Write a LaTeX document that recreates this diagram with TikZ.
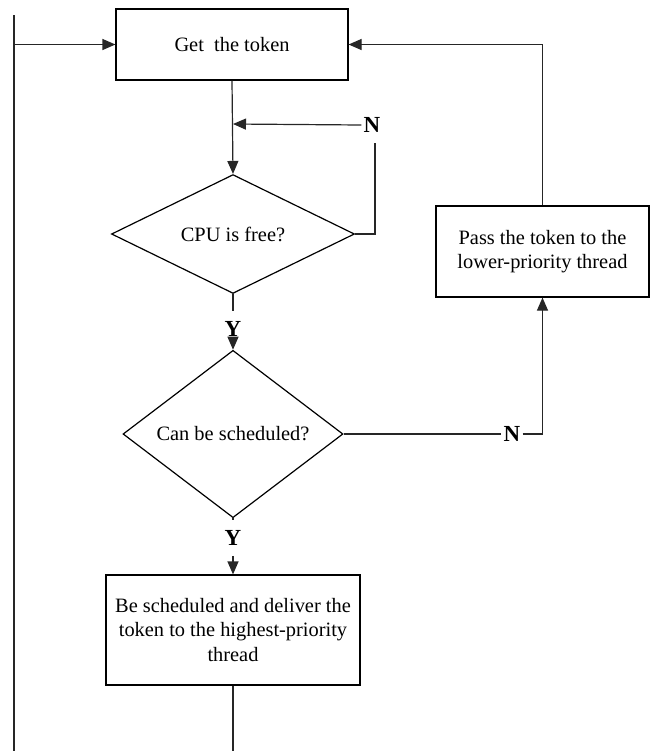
\documentclass[tikz,border=0pt]{standalone}
\usepackage{fontspec}
\setmainfont{Liberation Serif}
\usetikzlibrary{shapes.geometric,arrows.meta}
\tikzset{
    box/.style={draw, line width=0.6pt, inner sep=0pt, align=center},
    decision/.style={draw, diamond, line width=0.6pt, inner sep=0pt},
    flow/.style={line width=0.6pt, draw=black!85},
    arr/.style={flow, -{Triangle[length=6.5pt,width=5.5pt]}},
    yn/.style={font=\bfseries\fontsize{11.5}{12}\selectfont, inner xsep=1pt, inner ysep=5pt}
}
\begin{document}
\begin{tikzpicture}[x=0.5pt, y=-0.5pt, font=\fontsize{10.2}{12.3}\selectfont]
        \useasboundingbox (0,0) rectangle (656,751);
        %% Boxes and decisions
        \node[box, minimum width=116pt, minimum height=35.5pt] (get) at (232,44.5) {Get\ \ the token};
        \node[decision, minimum width=121.5pt, minimum height=54pt] (cpu) at (233,234) {CPU is free?};
        \node[decision, minimum width=110pt, minimum height=66pt] (sched) at (233,434) {Can be scheduled?};
        \node[box, minimum width=106.5pt, minimum height=45.5pt] (pass) at (542.5,251.5)
            {Pass the token to the\\lower-priority thread};
        \node[box, minimum width=127pt, minimum height=55pt] (deliver) at (233,630)
            {Be scheduled and deliver the\\token to the highest-priority\\thread};
        %% Y / N labels
        \node[yn] (n1) at (372,125) {N};
        \node[yn] (y1) at (233,329) {Y};
        \node[yn] (n2) at (512,434) {N};
        \node[yn] (y2) at (233,538) {Y};
        %% Free ends
        \coordinate (j1) at (233,124);
        \coordinate (out) at (233,751);
        \coordinate (lbot) at (14,751);
        \coordinate (ltop) at (14,15);
        \coordinate (lin) at (14,44.5);
        %% Connectors
        \draw[arr] (get.south) -- (cpu.north);
        \draw[arr] (n1.west) -- (j1);
        \draw[flow] (cpu.east) -| ([xshift=1.5pt]n1.south);
        \draw[flow] (cpu.south) -- (y1.north);
        \draw[arr] (y1.south) -- (sched.north);
        \draw[flow] (sched.east) -- (n2.west);
        \draw[arr] (n2.east) -| (pass.south);
        \draw[arr] (pass.north) |- (get.east);
        \draw[flow] (sched.south) -- (y2.north);
        \draw[arr] (y2.south) -- (deliver.north);
        \draw[flow] (deliver.south) -- (out);
        \draw[flow] (lbot) -- (ltop);
        \draw[arr] (lin) -- (get.west);
    \end{tikzpicture}
\end{document}
